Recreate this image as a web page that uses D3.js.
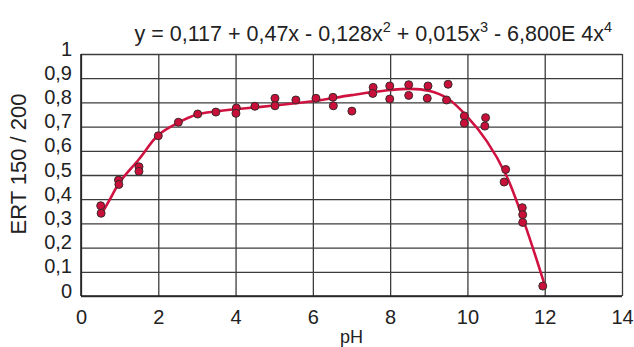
<!DOCTYPE html>
<html>
<head>
<meta charset="utf-8">
<script src="https://cdn.jsdelivr.net/npm/d3@7"></script>
<style>
  html, body { margin: 0; padding: 0; background: #fff; }
  svg { display: block; font-family: "Liberation Sans", Arial, sans-serif; }
</style>
</head>
<body>
<svg id="chart" width="634" height="347"></svg>
<script>
// measured points (pH, ERT 150/200)
const phValues = [0.51, 0.52, 0.97, 0.98, 1.5, 1.5, 2.0, 2.52, 3.02, 3.49, 4.02, 4.01, 4.5,
  5.02, 5.02, 5.56, 6.08, 6.52, 6.53, 7.01, 7.56, 7.55, 7.99, 7.99, 8.48, 8.48, 8.98, 8.96,
  9.5, 9.46, 9.92, 9.92, 10.47, 10.45, 10.99, 10.95, 11.42, 11.43, 11.43, 11.95];
const ertValues = [0.373, 0.342, 0.479, 0.461, 0.534, 0.515, 0.662, 0.718, 0.752, 0.76, 0.777, 0.755, 0.784,
  0.817, 0.786, 0.81, 0.817, 0.821, 0.786, 0.764, 0.862, 0.837, 0.868, 0.814, 0.873, 0.829, 0.868, 0.817,
  0.875, 0.81, 0.744, 0.714, 0.737, 0.702, 0.523, 0.471, 0.365, 0.336, 0.304, 0.041];

// fitted trend line
const fitPh  = [0.5, 0.75, 1.0, 1.5, 2.0, 2.5, 3.0, 3.5, 4.0, 5.0, 6.0, 7.0, 8.0, 8.5, 9.0, 9.5, 10.0, 10.5, 11.0, 11.5, 12.0];
const fitErt = [0.33, 0.40, 0.47, 0.565, 0.665, 0.715, 0.75, 0.763, 0.772, 0.787, 0.805, 0.83, 0.851, 0.856, 0.848, 0.815, 0.74, 0.64, 0.50, 0.29, 0.045];

const xTicks = [0, 2, 4, 6, 8, 10, 12, 14];
const yTicks = [0, 0.1, 0.2, 0.3, 0.4, 0.5, 0.6, 0.7, 0.8, 0.9, 1];
const yTickLabels = ['0', '0,1', '0,2', '0,3', '0,4', '0,5', '0,6', '0,7', '0,8', '0,9', '1'];

const margin = {top: 54, right: 12, bottom: 51, left: 81};
const width = 634 - margin.left - margin.right;
const height = 347 - margin.top - margin.bottom;

const svg = d3.select('#chart');
const g = svg.append('g')
    .attr('transform', 'translate(' + margin.left + ',' + margin.top + ')');

const x = d3.scaleLinear().domain([0, 14]).range([0, width]);
const y = d3.scaleLinear().domain([0, 1]).range([height, 0]);

const gridColor = '#3c3c3c';

// horizontal grid + y labels
const yAxis = g.append('g')
    .call(d3.axisLeft(y).tickValues(yTicks).tickSize(-width).tickPadding(9)
      .tickFormat((d, i) => yTickLabels[i]));
yAxis.select('.domain').remove();
yAxis.selectAll('line').attr('stroke', gridColor).attr('stroke-width', 1.3);
yAxis.selectAll('text')
    .attr('font-size', 20).attr('fill', '#222').attr('dy', '0.05em');

// vertical grid + x labels
const xAxis = g.append('g')
    .attr('transform', 'translate(0,' + height + ')')
    .call(d3.axisBottom(x).tickValues(xTicks).tickSize(-height).tickPadding(14));
xAxis.select('.domain').remove();
xAxis.selectAll('line').attr('stroke', gridColor).attr('stroke-width', 1.3);
xAxis.selectAll('text').attr('font-size', 20).attr('fill', '#222');

// axis lines
g.append('line').attr('x1', 0).attr('x2', 0).attr('y1', 0).attr('y2', height)
    .attr('stroke', '#222').attr('stroke-width', 1.6);
g.append('line').attr('x1', 0).attr('x2', width).attr('y1', height).attr('y2', height)
    .attr('stroke', '#222').attr('stroke-width', 1.6);

// trend line
const fit = fitPh.map((p, i) => ({p: p, v: fitErt[i]}));
g.append('path')
    .datum(fit)
    .attr('fill', 'none')
    .attr('stroke', '#cf1240')
    .attr('stroke-width', 2.6)
    .attr('d', d3.line().x(d => x(d.p)).y(d => y(d.v)).curve(d3.curveCatmullRom.alpha(0.5)));

// points
const pts = phValues.map((p, i) => ({p: p, v: ertValues[i]}));
g.selectAll('circle.pt')
    .data(pts)
    .enter()
    .append('circle')
    .attr('class', 'pt')
    .attr('cx', d => x(d.p))
    .attr('cy', d => y(d.v))
    .attr('r', 4)
    .attr('fill', '#c8103a')
    .attr('stroke', '#3a2a2a')
    .attr('stroke-width', 1);

// axis titles
svg.append('text')
    .attr('x', margin.left + x(7))
    .attr('y', 343)
    .attr('text-anchor', 'middle')
    .attr('font-size', 18)
    .attr('fill', '#222')
    .text('pH');

svg.append('text')
    .attr('transform', 'translate(26,164) rotate(-90)')
    .attr('text-anchor', 'middle')
    .attr('font-size', 22)
    .attr('fill', '#222')
    .text('ERT 150 / 200');

// equation
const eq = svg.append('text')
    .attr('x', 612)
    .attr('y', 41)
    .attr('text-anchor', 'end')
    .attr('font-size', 21.5)
    .attr('fill', '#222');
eq.append('tspan').text('y = 0,117 + 0,47x - 0,128x');
eq.append('tspan').attr('font-size', 14.5).attr('dy', -9).text('2');
eq.append('tspan').attr('dy', 9).text(' + 0,015x');
eq.append('tspan').attr('font-size', 14.5).attr('dy', -9).text('3');
eq.append('tspan').attr('dy', 9).text(' - 6,800E 4x');
eq.append('tspan').attr('font-size', 14.5).attr('dy', -9).text('4');
</script>
</body>
</html>
